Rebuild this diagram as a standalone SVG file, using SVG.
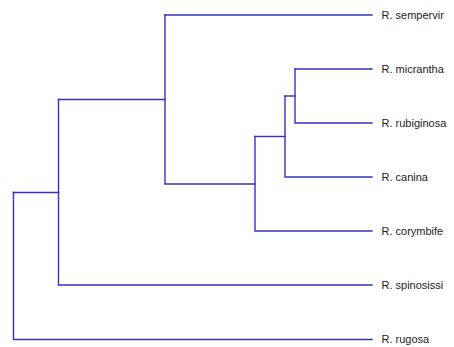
<svg xmlns="http://www.w3.org/2000/svg" width="454" height="347" viewBox="0 0 454 347">
<style>
.e{fill:none;stroke:#3232c4;stroke-width:1.4;stroke-linecap:square}
.t{font-family:"Liberation Sans",Arial,sans-serif;font-size:11px;fill:#222}
</style>
<rect width="454" height="347" fill="#fff"/>
<g id="connectors">
<path class="e" d="M13.5,192.5V339.5H372"/>
<path class="e" d="M13.5,192.5H58.5"/>
<path class="e" d="M58.5,99.5V285H372"/>
<path class="e" d="M58.5,99.5H165"/>
<path class="e" d="M165,15H372"/>
<path class="e" d="M165,15V184H255"/>
<path class="e" d="M255,136.5V231H372"/>
<path class="e" d="M255,136.5H285"/>
<path class="e" d="M285,96V177H372"/>
<path class="e" d="M285,96H295"/>
<path class="e" d="M295,69H372"/>
<path class="e" d="M295,69V123H372"/>
</g>
<g id="n-sempervir"><text class="t" x="381.5" y="19">R. sempervir</text></g>
<g id="n-micrantha"><text class="t" x="381.5" y="73">R. micrantha</text></g>
<g id="n-rubiginosa"><text class="t" x="381.5" y="127">R. rubiginosa</text></g>
<g id="n-canina"><text class="t" x="381.5" y="181">R. canina</text></g>
<g id="n-corymbifer"><text class="t" x="381.5" y="235">R. corymbife</text></g>
<g id="n-spinosissi"><text class="t" x="381.5" y="289">R. spinosissi</text></g>
<g id="n-rugosa"><text class="t" x="381.5" y="343">R. rugosa</text></g>
</svg>
